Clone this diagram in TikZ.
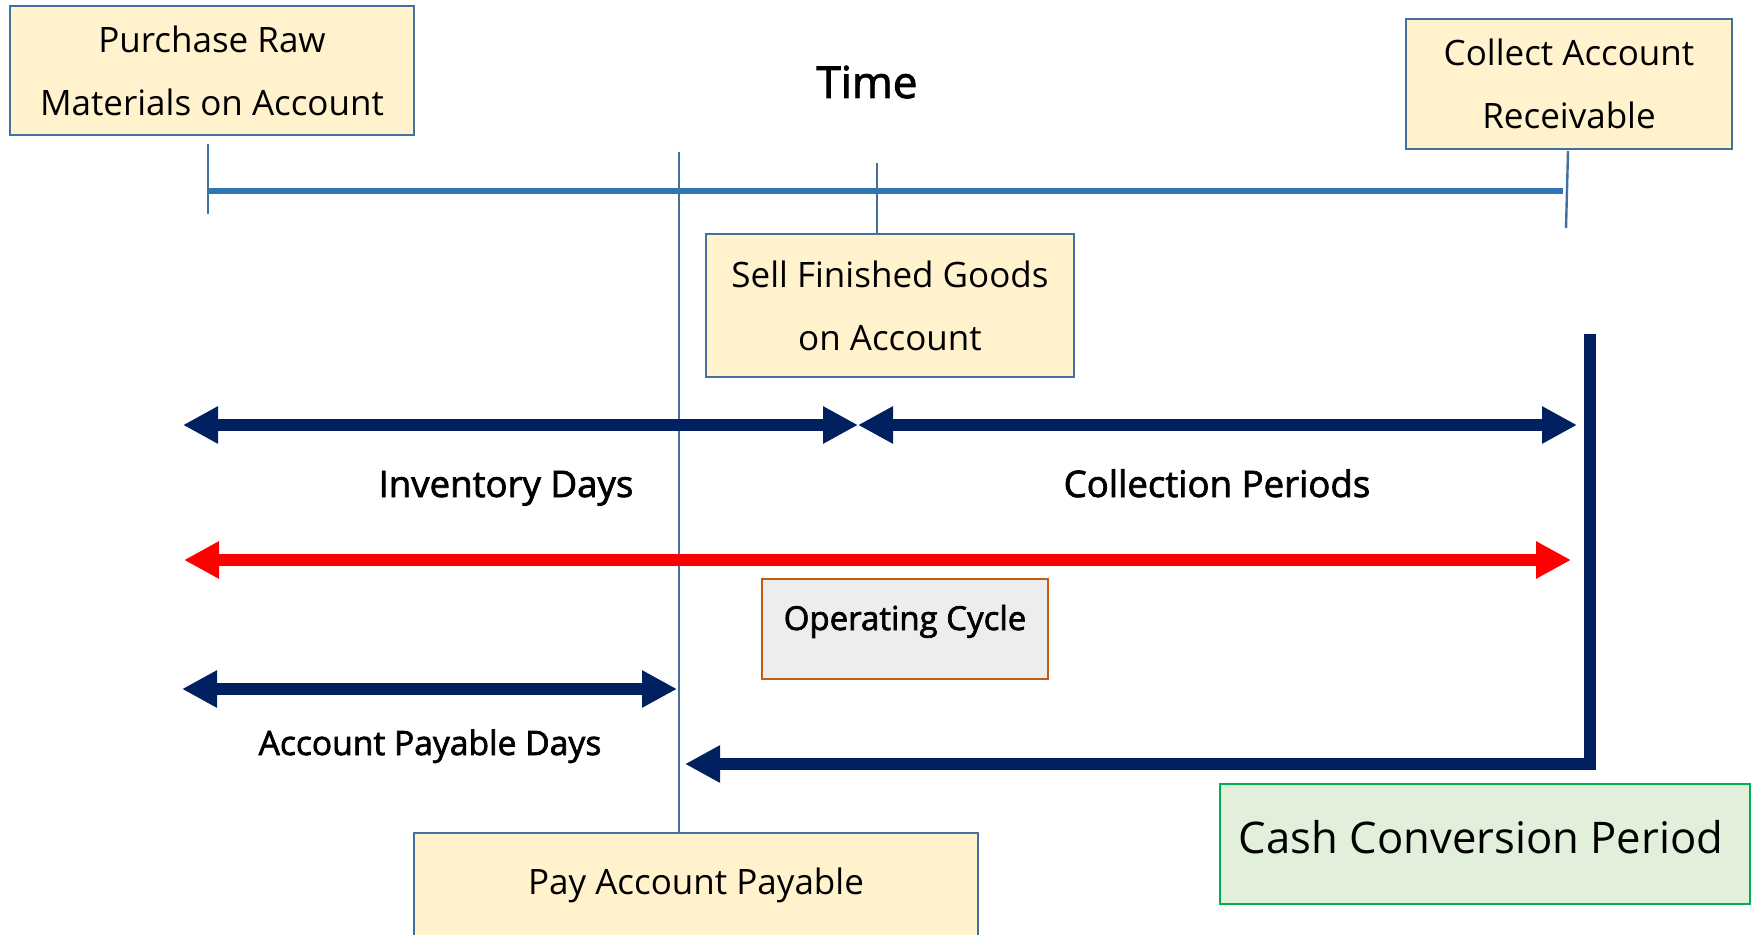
\documentclass[tikz,border=0pt]{standalone}
\usepackage{fontspec}
\setmainfont{Open Sans}
\newfontfamily\labelfont{Open Sans}[FakeBold=2]
\usetikzlibrary{arrows.meta}

\definecolor{boxfill}{HTML}{FFF2CC}
\definecolor{boxedge}{HTML}{41719C}
\definecolor{axisblue}{HTML}{2E75B6}
\definecolor{navy}{HTML}{002060}
\definecolor{opfill}{HTML}{EDEDED}
\definecolor{opedge}{HTML}{C55A11}
\definecolor{cashfill}{HTML}{E2EFDA}
\definecolor{cashedge}{HTML}{00B050}

\tikzset{
  evbox/.style={draw=boxedge, line width=1pt, fill=boxfill, inner sep=0pt,
    align=center, font=\fontsize{17.5}{31.5}\selectfont},
  tickline/.style={draw=boxedge, line width=1.2pt},
  axisline/.style={draw=axisblue, line width=3pt},
  spanarrow/.style={line width=6pt, {Triangle[length=17.5pt, width=17.5pt]}-{Triangle[length=17.5pt, width=17.5pt]}},
  lbl/.style={inner sep=0pt, anchor=base, font=\labelfont\fontsize{18.3}{22}\selectfont},
}

\begin{document}
\begin{tikzpicture}[x=0.5pt, y=-0.5pt]
\useasboundingbox (0,0) rectangle (1754,935);
\fill[white] (0,0) rectangle (1754,935);
\clip (0,0) rectangle (1754,935);

% event boxes
\node[evbox, minimum width=202pt, minimum height=64.5pt] (buy) at (212,70.5)
  {Purchase Raw\\Materials on Account};
\node[evbox, minimum width=163pt, minimum height=65pt] (collect) at (1569,84)
  {Collect Account\\Receivable};
\node[evbox, minimum width=184pt, minimum height=71.5pt] (sell) at (890,305.5)
  {Sell Finished Goods\\on Account};
\node[evbox, minimum width=282pt, minimum height=52pt] (pay) at (696,885)
  {Pay Account Payable};

% summary boxes
\node[draw=opedge, line width=0.8pt, fill=opfill, minimum width=143pt,
  minimum height=50pt, inner sep=0pt] (op) at (905,629) {};
\node[lbl, font=\labelfont\fontsize{16.5}{20}\selectfont] (opText) at (905,630) {Operating Cycle};
\node[draw=cashedge, line width=1pt, fill=cashfill, minimum width=265pt,
  minimum height=60pt, inner sep=0pt] (cash) at (1485,844) {};
\node[inner sep=0pt, anchor=base, font=\fontsize{21.8}{26}\selectfont] (cashText) at (1481,853)
  {Cash Conversion Period};

% title
\node[lbl, font=\labelfont\fontsize{22}{26}\selectfont] (time) at (867,98) {Time};

% time axis and event ticks
\coordinate (axisL) at (208,190.8);
\coordinate (axisR) at (1563,190.8);
\draw[axisline] (axisL) -- (axisR);
\coordinate (buyTop) at (208,144);
\coordinate (buyBot) at (208,214);
\draw[tickline] (buyTop) -- (buyBot);
\coordinate (sellTop) at (877,163);
\draw[tickline] (sellTop) -- (sellTop |- sell.north);
\coordinate (colTop) at (1568,151);
\coordinate (colBot) at (1566,228);
\draw[tickline] (colTop) -- (colBot);
\coordinate (payTop) at (679,152);
\draw[tickline] (payTop) -- (payTop |- pay.north);

% period arrows
\coordinate (invL) at (183,425);
\coordinate (invR) at (858,425);
\coordinate (colR) at (1577,425);
\draw[navy, spanarrow] (invL) -- (invR);
\draw[navy, spanarrow] (invR) -- (colR);
\node[lbl] (invLbl) at (506,497) {Inventory Days};
\node[lbl] (colLbl) at (1217,497) {Collection Periods};

\coordinate (opL) at (184,560);
\coordinate (opR) at (1571,560);
\draw[red, spanarrow] (opL) -- (opR);

\coordinate (apL) at (182,689);
\coordinate (apR) at (677,689);
\draw[navy, spanarrow] (apL) -- (apR);
\node[lbl, font=\labelfont\fontsize{16.8}{20}\selectfont] (apLbl) at (430,755) {Account Payable Days};

% cash conversion bracket
\coordinate (ccTop) at (1590,334);
\coordinate (ccCorner) at (1590,764);
\coordinate (ccEnd) at (685,764);
\draw[navy, line width=5.8pt, line join=miter, -{Triangle[length=17.5pt, width=17.5pt]}]
  (ccTop) -- (ccCorner) -- (ccEnd);
\end{tikzpicture}
\end{document}
